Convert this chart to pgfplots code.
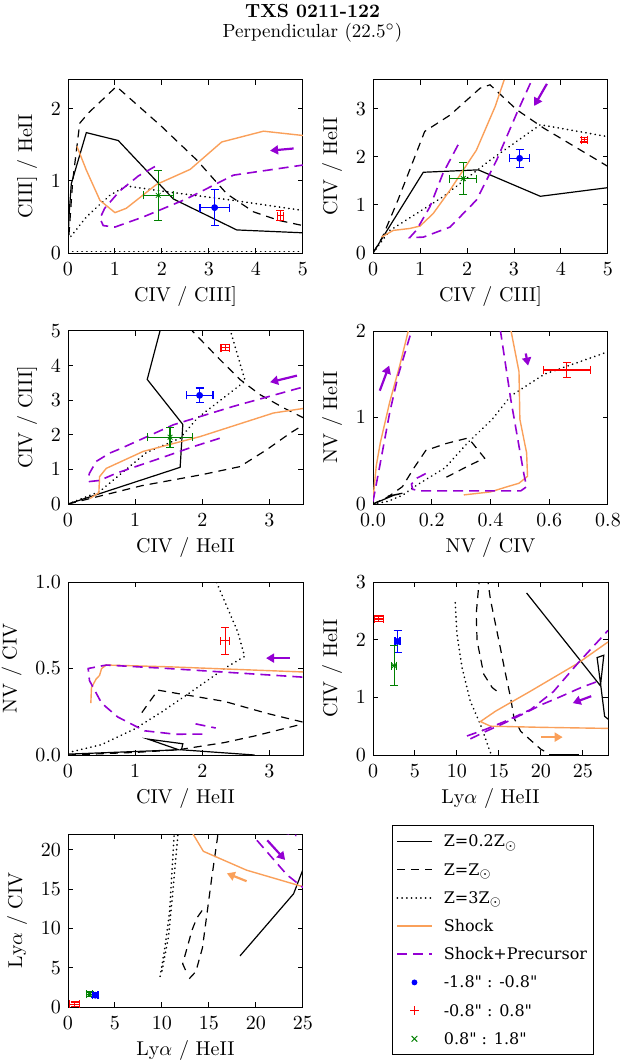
\documentclass[border=0pt]{standalone}
\usepackage{fontspec}
\usepackage{pgfplots}
\pgfplotsset{compat=1.18}
\usetikzlibrary{arrows.meta}
\newfontfamily\legfont{DejaVu Serif}
\definecolor{shockc}{RGB}{250,160,90}
\definecolor{precc}{RGB}{148,0,211}
\definecolor{dgreen}{RGB}{0,128,0}
\pgfplotsset{
  panel/.style={scale only axis, width=117.5pt, height=86.5pt, anchor=south west,
    tick align=inside, major tick length=2.5pt, axis line style={line width=0.5pt},
    every tick/.append style={line width=0.5pt, black},
    tick label style={font=\fontsize{10}{12}\selectfont},
    xticklabel style={yshift=-1.5pt},
    label style={font=\fontsize{10}{12}\selectfont},
    xlabel style={yshift=1.5pt}, scaled ticks=false, clip=true},
  z02/.style={black, line width=0.6pt},
  z1/.style={black, line width=0.6pt, dash pattern=on 4pt off 3pt},
  z3/.style={black, line width=0.9pt, line cap=round, dash pattern=on 0.05pt off 2.3pt},
  sh/.style={shockc, line width=0.7pt},
  sp/.style={precc, line width=0.8pt, dash pattern=on 5pt off 3pt},
  arrP/.style={precc, line width=1.1pt, -{Triangle[length=4pt,width=4.5pt]}},
  arrO/.style={shockc, line width=1.1pt, -{Triangle[length=4pt,width=4.5pt]}},
  ptB/.style={blue, mark=*, mark size=1.5pt, only marks, error bars/.cd, x dir=both, x explicit, y dir=both, y explicit, error bar style={line width=0.6pt, blue}, error mark options={rotate=90, blue, mark size=2pt, line width=0.6pt}},
  ptR/.style={red, mark=+, mark size=1.5pt, only marks, error bars/.cd, x dir=both, x explicit, y dir=both, y explicit, error bar style={line width=0.6pt, red}, error mark options={rotate=90, red, mark size=2pt, line width=0.6pt}},
  ptG/.style={dgreen, mark=x, mark size=1.7pt, only marks, error bars/.cd, x dir=both, x explicit, y dir=both, y explicit, error bar style={line width=0.6pt, dgreen}, error mark options={rotate=90, dgreen, mark size=2pt, line width=0.6pt}},
}
\begin{document}
\begin{tikzpicture}
\path[use as bounding box] (0,0) rectangle (312.5pt,-532pt);
\node[font=\bfseries\fontsize{9.5}{11}\selectfont, anchor=base] at (156.25pt,-8.7pt) {TXS 0211-122};
\node[font=\fontsize{9.5}{11}\selectfont, anchor=base] at (156.25pt,-19pt) {Perpendicular (22.5$^\circ$)};

% Panel 1
\begin{axis}[panel, at={(34pt,-126.5pt)}, xmin=0, xmax=5, ymin=0, ymax=2.4,
  xtick={0,1,2,3,4,5}, ytick={0,1,2}, xlabel={CIV / CIII]}, ylabel={CIII] / HeII}]
\addplot[z02] coordinates {(0.01,0.3) (0.02,0.5) (0.07,0.96) (0.39,1.67) (1.07,1.56) (2.24,0.75) (3.59,0.32) (5.0,0.28)};
\addplot[z1] coordinates {(0.02,0.25) (0.1,1.0) (0.25,1.8) (0.43,1.94) (1.03,2.31) (2.0,1.75) (2.74,1.29) (3.38,0.82) (3.95,0.57) (4.5,0.45) (5.0,0.38)};
\addplot[z3] coordinates {(0,0.18) (0.39,0.5) (0.89,0.8) (1.24,0.93) (2.1,0.85) (3.52,0.73) (5,0.59)};
\addplot[z3] coordinates {(0,0.02) (5,0.02)};
\addplot[sh] coordinates {(0.19,1.48) (0.39,1.15) (0.68,0.73) (1.0,0.56) (1.24,0.62) (1.88,0.95) (2.6,1.16) (3.27,1.54) (4.16,1.69) (5,1.63)};
\addplot[sp] coordinates {(1.85,1.2) (1.5,1.07) (1.1,0.86) (0.78,0.62) (0.68,0.48) (0.75,0.38) (1.0,0.36) (1.6,0.5) (2.52,0.75) (3.52,1.08) (5,1.22)};
\addplot[arrP] coordinates {(4.8,1.45) (4.3,1.42)};
\addplot[ptG] coordinates {(1.92,0.80) +- (0.32,0.35)};
\addplot[ptB] coordinates {(3.12,0.63) +- (0.31,0.25)};
\addplot[ptR] coordinates {(4.52,0.52) +- (0.07,0.07)};
\end{axis}

% Panel 2
\begin{axis}[panel, at={(186.5pt,-126.5pt)}, xmin=0, xmax=5, ymin=0, ymax=3.6,
  xtick={0,1,2,3,4,5}, ytick={0,1,2,3}, xlabel={CIV / CIII]}, ylabel={CIV / HeII}]
\addplot[z02] coordinates {(0,0) (1.07,1.68) (2.24,1.73) (3.56,1.18) (5,1.36)};
\addplot[z1] coordinates {(0,0) (0.2,0.33) (0.53,1.1) (1.1,2.53) (1.64,2.87) (2.28,3.43) (2.49,3.5) (3.06,2.98) (3.63,2.6) (5,1.8)};
\addplot[z3] coordinates {(0,0) (0.36,0.47) (1.49,1.17) (2.49,1.93) (3.56,2.67) (5,2.42)};
\addplot[sh] coordinates {(0.18,0.33) (0.43,0.47) (0.78,0.51) (1.0,0.56) (1.28,0.82) (1.64,1.31) (2.2,2.14) (2.6,3.05) (2.79,3.6)};
\addplot[sp] coordinates {(1.81,2.25) (1.49,1.66) (1.21,0.96) (0.92,0.47) (0.78,0.32) (1.07,0.33) (1.64,0.54) (2.2,1.1) (2.63,1.93) (3.06,2.91) (3.38,3.6)};
\addplot[arrP] coordinates {(3.7,3.52) (3.43,3.06)};
\addplot[ptG] coordinates {(1.92,1.55) +- (0.29,0.34)};
\addplot[ptB] coordinates {(3.12,1.97) +- (0.21,0.19)};
\addplot[ptR] coordinates {(4.5,2.36) +- (0.06,0.05)};
\end{axis}

% Panel 3
\begin{axis}[panel, at={(34pt,-252pt)}, xmin=0, xmax=3.5, ymin=0, ymax=5,
  xtick={0,1,2,3}, ytick={0,1,2,3,4,5}, xlabel={CIV / HeII}, ylabel={CIV / CIII]}]
\addplot[z02] coordinates {(0,0) (1.67,1.06) (1.71,2.3) (1.18,3.6) (1.37,5.0)};
\addplot[z1] coordinates {(0,0) (1.1,0.53) (2.0,0.85) (2.56,1.08) (2.96,1.57) (3.31,2.05) (3.6,2.4) (3.21,2.78) (2.86,3.16) (2.56,3.6) (2.26,4.18) (1.85,5.0)};
\addplot[z3] coordinates {(0,0) (0.47,0.36) (1.17,1.49) (1.67,1.9) (1.93,2.49) (2.64,3.55) (2.42,5.0)};
\addplot[sh] coordinates {(0.33,0.16) (0.46,0.33) (0.47,0.79) (0.57,1.03) (1.12,1.52) (1.97,1.95) (3.06,2.63) (3.5,2.76)};
\addplot[sp] coordinates {(2.26,1.9) (1.87,1.66) (1.37,1.32) (0.72,0.89) (0.47,0.68) (0.32,0.65) (0.3,0.75) (0.32,0.89) (0.42,1.23) (0.62,1.47) (0.77,1.59) (1.57,2.29) (2.46,2.82) (3.5,3.38)};
\addplot[arrP] coordinates {(3.41,3.71) (3.01,3.52)};
\addplot[ptG] coordinates {(1.52,1.93) +- (0.34,0.29)};
\addplot[ptB] coordinates {(1.96,3.14) +- (0.2,0.21)};
\addplot[ptR] coordinates {(2.34,4.52) +- (0.06,0.08)};
\end{axis}

% Panel 4
\begin{axis}[panel, at={(186.5pt,-252pt)}, xmin=0, xmax=0.8, ymin=0, ymax=2,
  xtick={0,0.2,0.4,0.6,0.8}, ytick={0,1,2}, xlabel={NV / CIV}, ylabel={NV / HeII},
  xticklabel style={/pgf/number format/.cd, fixed, fixed zerofill, precision=1}]
\addplot[z02] coordinates {(0,0) (0.07,0.1) (0.1,0.125) (0.05,0.09) (0.09,0.115)};
\addplot[z1] coordinates {(0,0) (0.05,0.08) (0.1,0.2) (0.14,0.42) (0.18,0.62) (0.25,0.7) (0.32,0.76) (0.33,0.74) (0.38,0.53) (0.33,0.45) (0.25,0.31)};
\addplot[z3] coordinates {(0,0) (0.05,0.03) (0.1,0.1) (0.15,0.22) (0.246,0.42) (0.32,0.7) (0.406,0.98) (0.469,1.25) (0.583,1.5) (0.8,1.76)};
\addplot[sh] coordinates {(0.0,0.05) (0.011,0.44) (0.025,0.71) (0.057,1.18) (0.091,1.6) (0.12,2.0) (0.13,2.2)};
\addplot[sh] coordinates {(0.46,2.2) (0.47,2.0) (0.497,1.53) (0.5,0.98) (0.523,0.59) (0.526,0.32) (0.497,0.24) (0.457,0.2) (0.4,0.14) (0.309,0.105)};
\addplot[sp] coordinates {(0,0.03) (0.023,0.44) (0.057,1.06) (0.086,1.49) (0.131,2.0) (0.14,2.2)};
\addplot[sp] coordinates {(0.43,2.2) (0.434,2.0) (0.469,1.21) (0.514,0.34) (0.523,0.2) (0.503,0.152) (0.4,0.152) (0.16,0.152) (0.135,0.17) (0.131,0.23) (0.15,0.3) (0.19,0.37)};
\addplot[arrP] coordinates {(0.023,1.31) (0.055,1.6)};
\addplot[arrP] coordinates {(0.52,1.74) (0.528,1.6)};
\addplot[ptR] coordinates {(0.66,1.55) +- (0.08,0.085)};
\end{axis}

% Panel 5
\begin{axis}[panel, at={(34pt,-377.5pt)}, xmin=0, xmax=3.5, ymin=0, ymax=1,
  xtick={0,1,2,3}, ytick={0,0.5,1}, xlabel={CIV / HeII}, ylabel={NV / CIV},
  yticklabel style={/pgf/number format/.cd, fixed, fixed zerofill, precision=1}]
\addplot[z02] coordinates {(0,0.005) (1.65,0.03) (1.19,0.092) (1.71,0.065) (1.69,0.03) (2.78,0.0)};
\addplot[z1] coordinates {(0,0) (1.0,0.015) (1.64,0.03) (2.33,0.072) (2.78,0.11) (3.5,0.18) (3.6,0.19) (3.5,0.19) (2.97,0.24) (2.33,0.31) (1.64,0.355) (1.34,0.375) (1.2,0.3) (1.1,0.245)};
\addplot[z3] coordinates {(0,0.014) (0.5,0.06) (0.99,0.15) (1.4,0.25) (1.74,0.34) (2.0,0.41) (2.33,0.5) (2.63,0.57) (2.53,0.71) (2.21,1.0)};
\addplot[sh] coordinates {(0.34,0.3) (0.35,0.39) (0.42,0.44) (0.47,0.46) (0.5,0.5) (0.57,0.52) (1.49,0.51) (3.5,0.48)};
\addplot[sp] coordinates {(2.0,0.121) (1.6,0.12) (1.14,0.14) (0.74,0.22) (0.5,0.3) (0.32,0.43) (0.3,0.5) (0.57,0.52) (1.49,0.50) (3.5,0.45)};
\addplot[sp] coordinates {(1.9,0.18) (2.2,0.156)};
\addplot[arrP] coordinates {(3.3,0.56) (2.95,0.56)};
\addplot[ptR] coordinates {(2.34,0.66) +- (0.07,0.078)};
\end{axis}

% Panel 6
\begin{axis}[panel, at={(186.5pt,-377.5pt)}, xmin=0, xmax=28, ymin=0, ymax=3,
  xtick={0,5,10,15,20,25}, ytick={0,1,2,3}, xlabel={Ly$\alpha$ / HeII}, ylabel={CIV / HeII}]
\addplot[z02] coordinates {(18.3,2.81) (27.1,1.2) (27.5,1.73) (26.7,1.69) (27.1,1.25) (27.6,0.67) (28.2,0.6)};
\addplot[z02] coordinates {(21,0.015) (24.5,0.015)};
\addplot[z1] coordinates {(12.7,3.1) (12.3,2.45) (12.4,1.98) (13.2,1.4) (14.2,1.17) (15.0,1.08)};
\addplot[z1] coordinates {(13.6,3.1) (14.0,2.69) (15.0,1.98) (15.8,1.4) (16.4,0.99) (16.8,0.64) (17.6,0.41) (20,0.1) (21,0.02)};
\addplot[z3] coordinates {(9.8,2.64) (10.0,2.1) (10.6,1.52) (11.6,0.93) (12.8,0.53) (13.8,0.12) (14.1,0)};
\addplot[sh] coordinates {(28.5,0.46) (20,0.48) (14,0.5) (12.8,0.58) (14.6,0.76) (18.8,1.11) (24.4,1.59) (28,1.96)};
\addplot[sp] coordinates {(11.2,0.33) (13.5,0.45) (16,0.6) (18.8,0.79) (21.5,1.1) (24.4,1.59) (28,2.16)};
\addplot[sp] coordinates {(11.6,0.28) (13.6,0.42) (15.6,0.55) (18,0.72) (20.2,0.88) (22,0.99) (24.8,1.17) (27.2,1.3)};
\addplot[arrP] coordinates {(26,1.02) (23.8,0.9)};
\addplot[arrO] coordinates {(20,0.31) (22.6,0.31)};
\addplot[ptR] coordinates {(0.7,2.36) +- (0.54,0.05)};
\addplot[ptB] coordinates {(2.92,1.97) +- (0.3,0.19)};
\addplot[ptG] coordinates {(2.52,1.55) +- (0.3,0.35)};
\end{axis}

% Panel 7
\begin{axis}[panel, at={(34pt,-503.5pt)}, xmin=0, xmax=25, ymin=0, ymax=22,
  xtick={0,5,10,15,20,25}, ytick={0,5,10,15,20}, xlabel={Ly$\alpha$ / HeII}, ylabel={Ly$\alpha$ / CIV},
  legend style={at={(1.3787,1.052)}, anchor=north west, draw=black, line width=0.5pt,
    font=\legfont\fontsize{8}{9.5}\selectfont, row sep=1.2pt, column sep=4.5pt, inner xsep=2pt, inner ysep=1.5pt,
    nodes={inner sep=1.2pt, text depth=0.25em, text height=0.8em}},
  legend cell align=left]
\addplot[forget plot, z02] coordinates {(18.3,6.5) (24.0,14.4) (25,17.5)};
\addplot[forget plot, z1] coordinates {(12.9,3.6) (13.6,4.5) (14.3,7.5) (14.8,12) (15.3,16.5) (15.9,21.5) (16,22.5)};
\addplot[forget plot, z1] coordinates {(12.5,4.7) (12.2,5.5) (13.2,9.8) (13.7,11.3) (14.4,12.5)};
\addplot[forget plot, z3] coordinates {(9.8,3.9) (10.3,7.5) (10.8,12) (11.0,16) (11.3,22)};
\addplot[forget plot, z3] coordinates {(10.0,4.6) (10.7,9) (11.1,14) (11.4,18) (11.7,22)};
\addplot[forget plot, sh] coordinates {(13.3,22) (14.4,19.8) (19.0,17.4) (25,15.3)};
\addplot[forget plot, sp] coordinates {(20.1,21.2) (23.3,16.8) (25,15.2)};
\addplot[forget plot, sp] coordinates {(22.5,22.3) (24.3,21.8)};
\addplot[forget plot, arrP] coordinates {(21.2,21.2) (23.1,18.7)};
\addplot[forget plot, arrO] coordinates {(19,16) (16.9,17)};
\addplot[forget plot, ptR] coordinates {(0.7,0.35) +- (0.5,0.3)};
\addplot[forget plot, ptG] coordinates {(2.3,1.6) +- (0.3,0.3)};
\addplot[forget plot, ptB] coordinates {(2.9,1.5) +- (0.3,0.3)};
\addlegendimage{z02}\addlegendentry{Z=0.2Z$_\odot$}
\addlegendimage{z1}\addlegendentry{Z=Z$_\odot$}
\addlegendimage{z3}\addlegendentry{Z=3Z$_\odot$}
\addlegendimage{sh}\addlegendentry{Shock}
\addlegendimage{sp}\addlegendentry{Shock+Precursor}
\addlegendimage{only marks, mark=*, blue, mark size=1.2pt}\addlegendentry{-1.8" : -0.8"}
\addlegendimage{only marks, mark=+, red, mark size=2.2pt}\addlegendentry{-0.8" : 0.8"}
\addlegendimage{only marks, mark=x, dgreen, mark size=2pt}\addlegendentry{0.8" : 1.8"}
\end{axis}
\end{tikzpicture}
\end{document}
